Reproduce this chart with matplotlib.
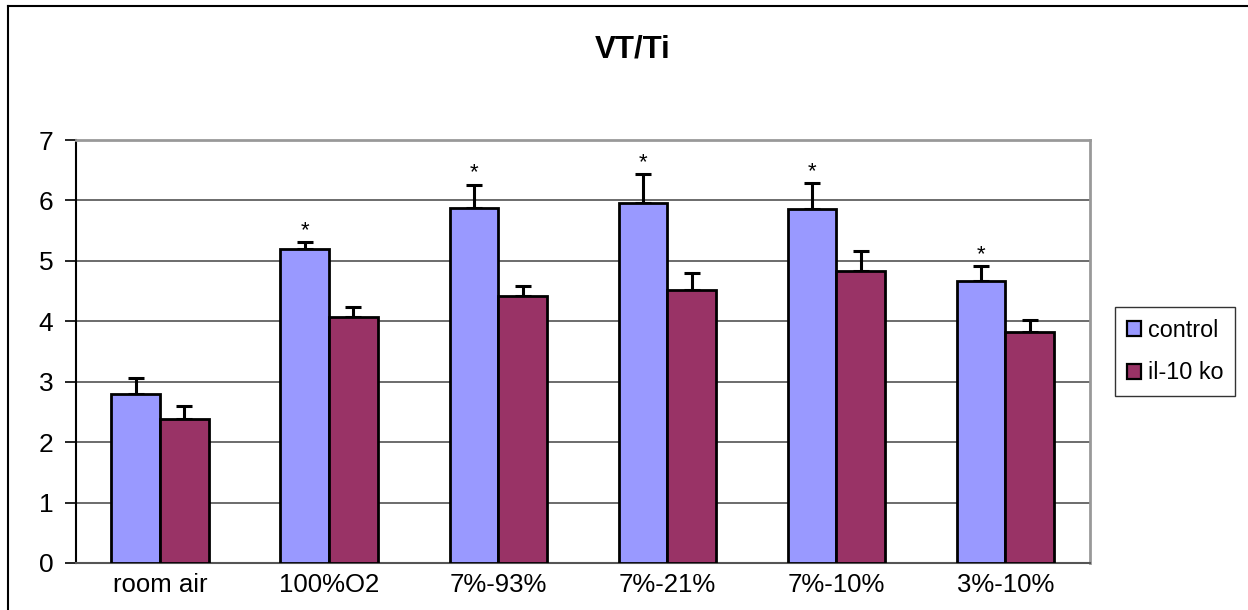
import numpy as np
import matplotlib
matplotlib.use("Agg")
import matplotlib.pyplot as plt
from matplotlib.lines import Line2D

plt.rcParams['font.family'] = ['Liberation Sans', 'DejaVu Sans']

categories = ["room air", "100%O2", "7%-93%", "7%-21%", "7%-10%", "3%-10%"]
control = [2.80, 5.20, 5.88, 5.95, 5.86, 4.67]
control_err = [0.26, 0.11, 0.38, 0.49, 0.43, 0.24]
ko = [2.38, 4.07, 4.42, 4.52, 4.84, 3.82]
ko_err = [0.22, 0.16, 0.17, 0.28, 0.32, 0.20]
significant = [False, True, True, True, True, True]

W, H = 1248, 610
fig = plt.figure(figsize=(W / 100, H / 100), dpi=100)
fig.patch.set_facecolor("white")

# outer chart frame (left and top edges)
fig.add_artist(Line2D([8 / W, 8 / W], [-0.1, 1 - 6 / H], transform=fig.transFigure,
                      color="black", lw=1.5))
fig.add_artist(Line2D([8 / W, 1.1], [1 - 6 / H, 1 - 6 / H], transform=fig.transFigure,
                      color="black", lw=1.5))

ax = fig.add_axes([75.5 / W, 1 - 563 / H, (1090 - 75.5) / W, (563 - 140) / H])

x = np.arange(len(categories))
bw = 0.288
c_ctrl = "#9999FF"
c_ko = "#993366"

ax.bar(x - bw / 2, control, bw, color=c_ctrl, edgecolor="black", lw=2.0,
       label="control", zorder=3)
ax.bar(x + bw / 2, ko, bw, color=c_ko, edgecolor="black", lw=2.0,
       label="il-10 ko", zorder=3)

ax.errorbar(x - bw / 2, control, yerr=[np.zeros(len(x)), control_err], fmt="none",
            ecolor="black", elinewidth=2.2, capsize=5.5, capthick=2.2, zorder=2)
ax.errorbar(x + bw / 2, ko, yerr=[np.zeros(len(x)), ko_err], fmt="none",
            ecolor="black", elinewidth=2.2, capsize=5.5, capthick=2.2, zorder=2)

for i, sig in enumerate(significant):
    if sig:
        ax.text(x[i] - bw / 2, control[i] + control_err[i] + 0.10, "*", ha="center",
                va="baseline", fontsize=16, color="black")

ax.set_xlim(-0.5, len(categories) - 0.5)
ax.set_ylim(0, 7)
ax.set_yticks(range(0, 8))
ax.set_xticks(x)
ax.set_xticklabels(categories, fontsize=18.5)
ax.tick_params(axis="y", labelsize=19, length=8, width=1.2, direction="out", pad=8)
ax.tick_params(axis="x", length=0, pad=7)

for yv in range(1, 7):
    ax.axhline(yv, color="#444444", lw=1.1, zorder=1)

ax.spines["left"].set_color("black")
ax.spines["left"].set_linewidth(1.5)
ax.spines["bottom"].set_color("#555555")
ax.spines["bottom"].set_linewidth(1.5)
ax.spines["top"].set_color("#999999")
ax.spines["top"].set_linewidth(2)
ax.spines["right"].set_color("#999999")
ax.spines["right"].set_linewidth(2)

fig.text(633 / W, 1 - 50 / H, "VT/Ti", ha="center", va="center", fontsize=22.5,
         fontweight="bold")

leg = fig.legend(loc="center left", bbox_to_anchor=(1115 / W, 1 - 351.5 / H),
                 bbox_transform=fig.transFigure, fontsize=16.8, frameon=True,
                 fancybox=False, edgecolor="black", handlelength=0.6, handleheight=0.6,
                 handletextpad=0.3, labelspacing=0.85, borderpad=0.5, borderaxespad=0)
leg.get_frame().set_linewidth(1.0)
for h in leg.legend_handles:
    h.set_linewidth(1.6)

plt.savefig("out.png", dpi=100)
